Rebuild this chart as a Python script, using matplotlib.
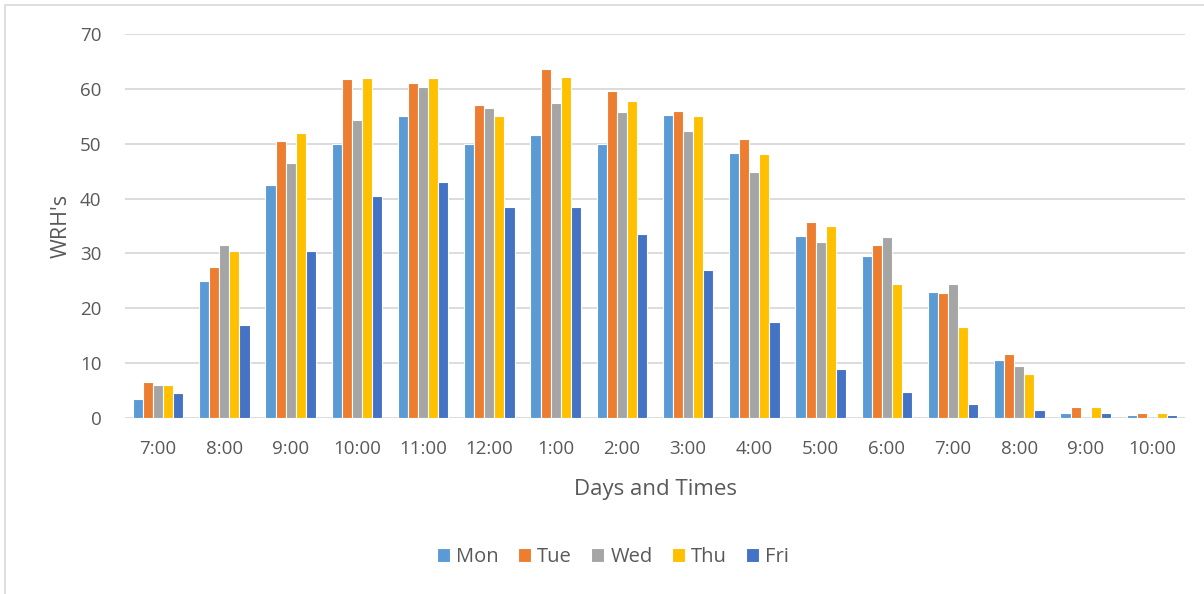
import matplotlib
matplotlib.use("Agg")
import matplotlib.pyplot as plt
import numpy as np
from matplotlib.patches import Rectangle

categories = ["7:00", "8:00", "9:00", "10:00", "11:00", "12:00", "1:00", "2:00",
              "3:00", "4:00", "5:00", "6:00", "7:00", "8:00", "9:00", "10:00"]
mon = [3.5, 25, 42.5, 50, 55, 50, 51.5, 50, 55.3, 48.3, 33.2, 29.5, 23, 10.5, 1, 0.5]
tue = [6.5, 27.5, 50.5, 61.8, 61, 57, 63.6, 59.7, 56, 50.8, 35.8, 31.5, 22.8, 11.6, 2, 1]
wed = [6, 31.5, 46.5, 54.3, 60.3, 56.6, 57.5, 55.8, 52.4, 44.9, 32, 33, 24.5, 9.4, 0, 0]
thu = [6, 30.5, 52, 62, 62, 55, 62.2, 57.7, 55, 48.2, 35, 24.5, 16.5, 8, 2, 1]
fri = [4.5, 17, 30.5, 40.5, 43, 38.5, 38.5, 33.5, 27, 17.5, 9, 4.7, 2.5, 1.5, 1, 0.5]
series_names = ["Mon", "Tue", "Wed", "Thu", "Fri"]
series = [mon, tue, wed, thu, fri]
colors = ["#5B9BD5", "#ED7D31", "#A5A5A5", "#FFC000", "#4472C4"]

plt.rcParams['font.family'] = ['Open Sans', 'DejaVu Sans']
W, H = 1204, 594
fig = plt.figure(figsize=(W/100, H/100), dpi=100)
ax = fig.add_axes([125/W, 1-418/H, (1185-125)/W, (418-34)/H])

x = np.arange(len(categories))
slot = 0.152
for i, (name, vals, c) in enumerate(zip(series_names, series, colors)):
    ax.bar(x + (i-2)*slot, vals, width=slot, color=c, edgecolor="white",
           linewidth=0.8, label=name, zorder=3)

ax.set_xlim(-0.5, len(categories)-0.5)
ax.set_ylim(0, 70)
ax.set_yticks(range(0, 71, 10))
ax.set_xticks(x)
ax.set_xticklabels(categories)
ax.yaxis.grid(True, color="#D9D9D9", linewidth=1.3, zorder=0)
ax.set_axisbelow(True)
for s in ax.spines.values():
    s.set_visible(False)
ax.tick_params(length=0, labelsize=13.5, colors="#595959")
ax.tick_params(axis='x', pad=16)
ax.tick_params(axis='y', pad=17)
ax.set_ylabel("WRH's", fontsize=15.5, color="#595959", labelpad=6)
ax.set_xlabel("Days and Times", fontsize=16, color="#595959", labelpad=15)

leg = fig.legend(loc="center", bbox_to_anchor=(613/W, 1-557/H), ncol=5,
                 frameon=False, fontsize=14.5, handlelength=0.65, handleheight=0.65,
                 handletextpad=0.3, columnspacing=0.95, labelcolor="#595959")

fig.patches.append(Rectangle((5/W, -0.1), 1.2, 1-5/H+0.1, transform=fig.transFigure,
                             fill=False, edgecolor="#D9D9D9", linewidth=1.2))
fig.savefig("out.png", dpi=100)
